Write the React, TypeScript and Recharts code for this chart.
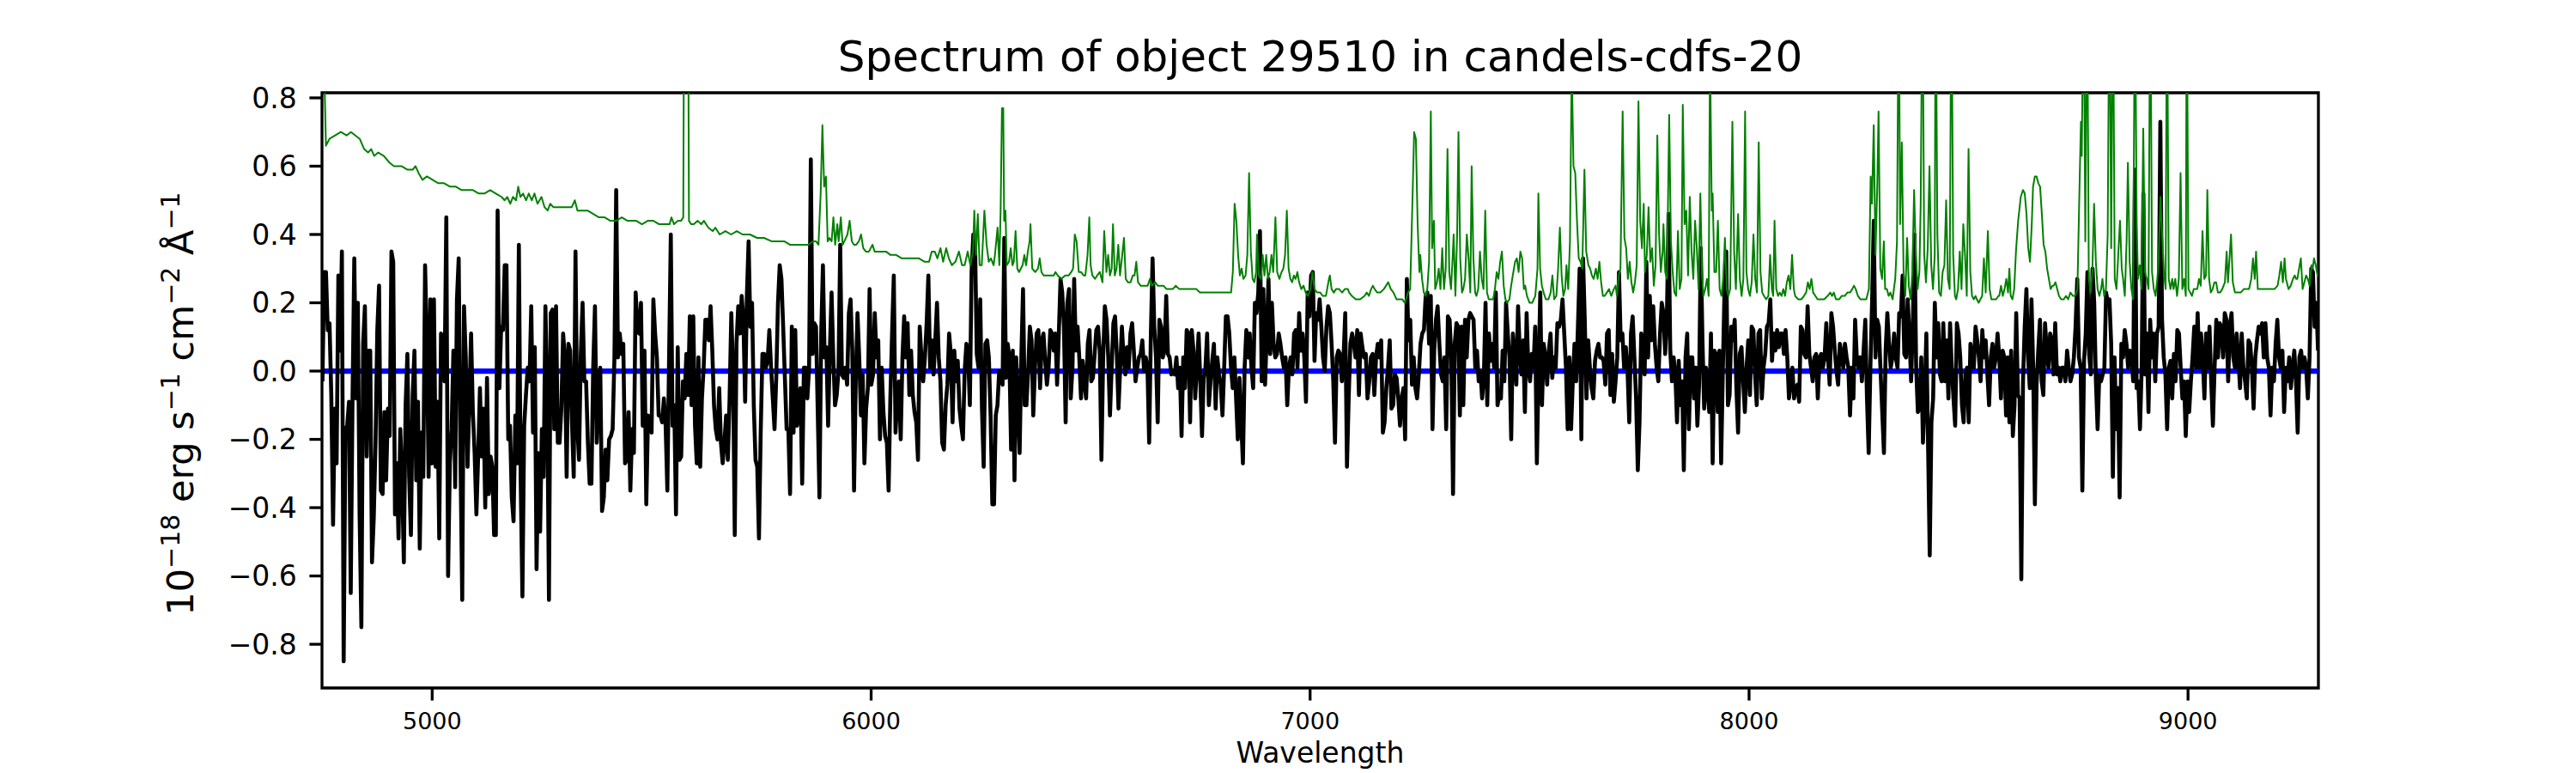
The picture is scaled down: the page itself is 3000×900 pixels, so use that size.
import { LineChart, Line, XAxis, YAxis, ReferenceArea } from 'recharts';

const FONT = 'DejaVu Sans';

// axis limits and ticks
const WAVE_RANGE = [4749, 9297];
const FLUX_RANGE = [-0.928, 0.815];
const WAVE_TICKS = [5000, 6000, 7000, 8000, 9000];
const FLUX_TICKS = [-0.8, -0.6, -0.4, -0.2, 0, 0.2, 0.4, 0.6, 0.8];

// object flux (black), in six wavelength chunks, samples evenly spaced inside each chunk
const SEGMENT_EDGES = [4750, 5520, 6280, 7045, 7805, 8570, 9300];

const flux1 = [-0.03,0.29,0.29,0.12,0.14,-0.07,-0.45,-0.11,-0.27,0.28,0.06,0.35,-0.85,-0.17,-0.16,-0.09,-0.65,-0.08,0.33,-0.08,0.2,-0.42,-0.75,0.08,0.19,-0.25,0.06,0.06,-0.56,-0.43,-0.21,0.12,0.25,-0.35,-0.36,-0.12,-0.32,-0.11,-0.19,0.35,0.32,-0.42,-0.27,-0.49,-0.17,-0.31,-0.56,-0.1,0.05,-0.31,-0.48,-0.07,0.06,-0.32,-0.09,-0.52,-0.18,-0.31,0.31,0.09,-0.31,0.21,-0.27,0.21,-0.28,-0.09,-0.49,0.11,0.09,-0.03,0.45,-0.6,-0.27,-0.17,0.06,-0.34,0.21,0.33,-0.25,-0.67,0.19,0.04,-0.28,-0.09,0.11,-0.12,-0.24,-0.42,-0.25,-0.05,-0.25,-0.11,-0.4,-0.02,-0.36,-0.25,-0.28,-0.48,-0.48,0.47,-0.05,0.13,0.12,0.31,0.31,-0.2,-0.16,-0.37,-0.44,-0.13,-0.27,0.37,-0.31,-0.66,-0.16,-0.07,0.01,-0.03,0.19,-0.18,0.07,-0.58,-0.24,-0.47,-0.17,-0.31,0.19,-0.05,-0.67,0.17,0.18,-0.17,0.19,-0.21,-0.21,-0.11,0.11,0.04,-0.31,0.08,0.06,-0.15,-0.31,0.35,-0.16,-0.26,0.05,0.2,-0.03,-0.03,-0.21,-0.33,-0.33,0.01,0.19,-0.21,-0.07,0.01,-0.41,-0.37,-0.23,-0.32,-0.2,-0.19,-0.17,0.04,0.53,0.04,0.11,0.05,0.08,-0.27,-0.26,-0.12,-0.35,-0.17,-0.24,0.23,0.13,0.11,0.2,-0.16,0.06,-0.39,-0.13,-0.16,-0.18,0.21,0.11,0.04,-0.13];
const flux2 = [-0.13,-0.15,-0.08,-0.16,-0.35,0.04,0.4,-0.16,-0.1,-0.42,0.07,-0.26,-0.25,-0.03,-0.08,0.05,-0.07,0.16,-0.1,0.16,-0.16,-0.27,0.04,-0.28,-0.08,0.01,0.15,0.15,0.09,0.19,0.06,-0.1,-0.17,-0.2,-0.05,-0.21,-0.27,-0.21,-0.13,-0.26,-0.08,0.17,0.0,-0.48,0.08,0.19,0.11,0.22,0.15,-0.09,0.22,0.38,0.13,0.2,-0.1,-0.26,-0.28,-0.49,-0.18,0.05,0.05,0.01,0.03,0.12,0.01,-0.08,-0.17,-0.02,0.2,0.31,0.27,0.13,-0.02,-0.17,-0.17,-0.36,0.13,-0.18,0.12,-0.16,-0.09,-0.05,-0.33,0.01,0.01,-0.08,0.01,0.62,0.05,0.14,0.13,-0.12,-0.37,0.11,0.31,0.04,0.07,-0.16,0.06,0.23,0.04,-0.1,-0.07,0.0,0.37,-0.01,-0.02,0.01,-0.04,0.17,0.21,0.06,-0.35,-0.03,0.17,0.04,-0.13,-0.01,-0.27,-0.11,-0.05,0.24,-0.04,-0.01,0.17,0.04,0.09,-0.2,0.01,-0.12,-0.19,-0.21,-0.35,-0.08,0.11,0.28,-0.18,-0.08,-0.03,-0.2,0.04,0.16,0.04,0.14,-0.07,0.06,-0.07,-0.12,-0.15,-0.26,0.13,0.04,-0.03,0.04,0.14,0.28,0.01,0.09,-0.01,0.09,0.2,0.04,-0.03,-0.21,-0.23,-0.1,-0.04,0.11,0.05,-0.15,0.06,-0.03,0.03,-0.11,-0.16,-0.2,0.0,0.08,0.05,-0.1,0.29,0.4,0.38,0.05,0.01,0.21,-0.11,-0.28,0.08,0.09,0.04,-0.13,-0.39];
const flux3 = [-0.39,-0.13,-0.1,0.0,-0.01,-0.04,0.39,-0.02,0.08,0.04,-0.23,0.06,-0.32,0.04,-0.08,-0.24,0.04,0.24,-0.1,-0.1,0.0,0.13,0.09,-0.13,0.01,0.11,0.12,-0.05,0.09,0.11,0.03,-0.04,0.01,0.12,0.11,0.06,0.11,-0.04,0.11,0.27,0.23,0.13,-0.15,0.2,0.24,-0.08,0.01,0.27,0.06,0.13,0.04,-0.08,0.03,-0.03,-0.08,0.08,0.12,-0.03,-0.02,0.05,0.12,0.13,0.06,-0.26,0.04,0.19,0.15,0.04,-0.13,0.01,0.14,0.16,0.05,-0.11,0.01,0.13,0.04,-0.01,0.07,0.01,0.11,0.14,0.06,-0.03,0.01,0.04,0.05,0.09,0.0,0.04,0.01,-0.21,0.11,0.33,0.13,0.04,-0.15,0.15,0.13,0.04,0.06,0.22,0.05,0.04,-0.01,0.0,-0.01,0.04,-0.05,0.01,-0.19,0.04,-0.05,0.12,0.11,-0.15,0.12,0.06,-0.08,0.01,0.11,-0.03,-0.19,-0.02,0.01,0.11,-0.1,-0.03,0.03,0.08,-0.11,0.04,-0.01,-0.04,-0.13,0.01,0.16,0.16,0.11,0.01,-0.05,0.04,-0.08,-0.2,-0.02,-0.15,-0.27,0.01,0.12,0.04,0.11,0.01,-0.05,0.2,0.17,0.23,0.41,-0.03,0.24,-0.04,0.11,0.27,0.05,0.2,0.08,0.04,0.05,0.11,0.08,0.04,0.01,0.04,-0.1,0.01,0.04,-0.01,0.11,0.12,0.01,0.17,0.06,0.11,0.04,-0.09,0.23,0.16,0.28,0.29,0.03,0.17,0.15,0.21,0.13,0.04,0.0,0.13,0.19];
const flux4 = [0.17,0.08,-0.03,-0.21,0.04,0.06,0.05,-0.03,0.04,0.17,-0.28,-0.08,0.08,0.11,0.08,0.04,0.12,-0.07,0.11,0.07,0.04,0.05,-0.08,-0.03,0.04,0.05,-0.07,0.04,0.08,0.04,0.09,-0.18,-0.15,-0.05,0.01,0.09,-0.11,-0.1,-0.01,-0.02,-0.08,-0.16,-0.08,-0.05,-0.2,0.27,0.09,0.15,-0.04,0.04,-0.05,-0.08,-0.01,0.08,0.11,0.12,0.22,0.23,0.08,0.22,-0.17,0.06,0.15,0.19,0.08,-0.01,-0.03,0.04,-0.17,0.16,0.15,0.04,-0.36,0.08,0.14,0.13,-0.13,0.13,-0.1,0.15,0.04,0.15,0.17,0.16,0.15,0.01,0.06,-0.03,0.0,-0.08,-0.02,0.2,-0.1,0.11,0.03,0.08,0.01,0.23,-0.1,-0.07,-0.08,0.06,-0.03,0.2,0.11,0.04,-0.2,0.11,0.04,-0.04,0.19,0.06,-0.01,0.09,-0.12,0.17,0.01,-0.03,0.05,0.01,0.13,-0.27,0.01,0.23,-0.1,0.08,0.04,-0.04,0.06,0.11,-0.02,0.04,0.01,0.14,0.13,0.15,0.21,0.11,0.01,-0.17,0.04,-0.17,-0.03,0.08,-0.03,0.13,0.3,-0.2,0.33,0.15,-0.08,0.09,0.01,-0.05,-0.08,0.03,0.06,0.08,0.04,0.04,0.03,-0.04,0.11,0.12,-0.07,0.05,-0.09,-0.03,0.04,0.29,0.09,0.11,0.01,0.07,0.0,-0.15,0.11,0.16,0.04,-0.08,-0.29,-0.15,0.11,0.06,-0.01,0.32,0.04,0.22,0.09,0.19,0.08,0.01,-0.03,0.11,0.2];
const flux5 = [0.17,0.05,0.15,0.46,0.06,-0.03,0.04,-0.01,-0.15,0.03,-0.1,-0.03,-0.29,0.04,0.11,-0.17,0.04,0.04,-0.08,0.01,-0.16,-0.04,0.36,0.09,-0.11,0.01,-0.05,-0.12,0.11,-0.27,0.06,0.05,-0.12,0.06,-0.27,0.0,0.24,0.35,-0.1,-0.07,0.13,0.09,0.15,-0.05,-0.18,0.05,0.07,-0.03,-0.12,0.01,0.09,-0.07,0.13,0.12,-0.01,-0.1,0.11,0.12,-0.08,0.01,0.05,0.13,0.14,0.21,0.03,0.11,0.06,0.12,0.07,0.11,0.11,0.05,0.12,0.04,-0.08,-0.03,0.01,-0.08,-0.05,-0.04,-0.09,0.13,0.12,0.05,0.04,0.19,0.05,0.01,-0.03,0.04,0.05,-0.08,0.04,0.05,0.01,0.04,0.14,0.04,-0.04,0.17,0.13,0.06,0.0,-0.04,0.08,0.05,0.01,0.08,0.04,0.01,-0.13,0.01,-0.08,0.15,0.04,0.01,0.04,-0.03,0.06,0.15,-0.08,-0.24,0.01,0.2,0.44,0.04,0.15,0.13,0.0,-0.12,-0.24,0.06,0.17,0.08,0.01,0.04,0.11,0.04,0.01,0.17,0.16,0.28,0.05,0.04,0.21,0.11,-0.03,0.13,0.4,0.01,-0.12,-0.11,0.04,-0.21,-0.08,0.11,-0.21,-0.54,-0.15,-0.08,0.2,0.04,0.14,-0.01,-0.03,0.14,-0.03,0.09,-0.08,0.14,0.01,-0.08,-0.16,0.14,0.11,0.04,-0.1,-0.15,-0.01,0.01,-0.15,0.08,0.04,0.01,0.13,0.09,0.04,-0.03,0.12,0.04,0.09,-0.01,-0.1,0.04,0.08,0.01,0.04,0.11];
const flux6 = [0.04,-0.08,0.06,0.04,-0.13,0.04,-0.15,0.06,-0.19,-0.1,0.17,-0.07,-0.08,-0.61,-0.03,0.13,0.24,0.04,-0.05,0.21,0.01,-0.39,-0.04,0.06,0.15,-0.03,-0.07,0.14,0.06,0.01,0.11,0.09,-0.01,0.14,-0.01,0.01,-0.03,0.01,0.01,-0.03,0.06,0.01,-0.03,-0.01,0.04,0.13,0.27,0.04,0.01,-0.35,0.03,0.11,0.29,0.05,-0.01,0.3,0.2,-0.03,-0.17,-0.01,-0.03,-0.01,0.01,0.23,0.2,0.21,0.08,-0.31,0.04,-0.17,-0.05,-0.37,0.08,0.04,0.12,0.08,0.01,0.06,0.04,-0.03,0.59,-0.05,-0.03,-0.17,0.01,0.52,-0.01,0.11,-0.12,0.15,0.04,0.11,-0.03,0.11,0.13,0.73,0.15,0.04,-0.01,-0.17,0.01,0.03,-0.08,0.05,-0.03,0.12,0.11,0.01,-0.08,-0.03,-0.19,-0.03,-0.12,-0.03,0.04,0.13,0.01,0.17,0.01,0.11,0.04,-0.08,0.11,0.01,0.13,-0.03,-0.16,0.01,0.15,0.04,0.14,0.13,0.04,0.17,0.15,-0.03,0.13,0.17,0.04,0.01,0.11,0.04,-0.05,0.11,0.01,-0.03,-0.08,0.09,0.08,0.01,-0.11,0.04,0.09,0.13,0.11,0.14,0.04,0.14,0.04,0.01,-0.13,0.01,-0.03,0.08,0.15,0.04,0.01,0.06,-0.12,0.01,-0.03,0.04,-0.05,0.01,0.06,-0.03,-0.18,0.04,0.06,0.01,0.04,0.01,-0.08,0.04,0.3,0.29,0.13,0.2,0.06];

// noise / sky spectrum (green) as [wavelength, flux] pairs; values above the frame are cut off
const noise1: [number, number][] = [[4750,1.1],[4753,0.95],[4758,0.66],[4766,0.68],[4779,0.69],[4792,0.7],[4805,0.69],[4815,0.7],[4825,0.69],[4835,0.68],[4845,0.65],[4854,0.64],[4861,0.65],[4868,0.63],[4877,0.64],[4890,0.63],[4903,0.61],[4913,0.6],[4920,0.6],[4930,0.6],[4943,0.59],[4956,0.59],[4962,0.6],[4969,0.58],[4978,0.56],[4988,0.57],[5001,0.56],[5014,0.55],[5027,0.55],[5041,0.54],[5054,0.54],[5067,0.53],[5080,0.53],[5093,0.53],[5106,0.52],[5119,0.52],[5132,0.53],[5145,0.52],[5158,0.51],[5165,0.5],[5171,0.51],[5178,0.49],[5184,0.51],[5191,0.5],[5196,0.54],[5201,0.51],[5207,0.52],[5214,0.5],[5220,0.52],[5227,0.5],[5233,0.52],[5240,0.49],[5249,0.51],[5256,0.48],[5263,0.47],[5269,0.49],[5276,0.48],[5282,0.48],[5292,0.48],[5302,0.48],[5312,0.48],[5318,0.48],[5325,0.5],[5331,0.47],[5341,0.47],[5354,0.47],[5367,0.46],[5380,0.45],[5393,0.45],[5406,0.44],[5419,0.44],[5432,0.45],[5445,0.44],[5455,0.44],[5465,0.44],[5478,0.43],[5491,0.44],[5504,0.44],[5517,0.43]];
const noise2: [number, number][] = [[5520,0.43],[5528,0.43],[5541,0.43],[5545,0.45],[5551,0.43],[5560,0.44],[5567,0.44],[5572,0.45],[5575,1.5],[5582,1.5],[5585,0.44],[5590,0.43],[5596,0.43],[5605,0.44],[5613,0.43],[5619,0.44],[5629,0.42],[5639,0.41],[5645,0.42],[5655,0.4],[5668,0.41],[5681,0.4],[5694,0.41],[5707,0.4],[5724,0.4],[5740,0.39],[5756,0.39],[5773,0.38],[5789,0.38],[5802,0.38],[5815,0.37],[5828,0.37],[5841,0.37],[5857,0.37],[5867,0.38],[5874,0.38],[5880,0.37],[5885,0.52],[5889,0.72],[5893,0.54],[5897,0.57],[5901,0.38],[5905,0.39],[5910,0.38],[5914,0.45],[5918,0.37],[5923,0.43],[5926,0.38],[5931,0.45],[5935,0.37],[5939,0.38],[5946,0.4],[5951,0.44],[5956,0.38],[5961,0.37],[5966,0.37],[5972,0.38],[5977,0.4],[5982,0.36],[5988,0.35],[5995,0.35],[6003,0.37],[6008,0.35],[6017,0.35],[6027,0.35],[6034,0.35],[6044,0.34],[6057,0.34],[6070,0.33],[6083,0.33],[6096,0.33],[6109,0.33],[6122,0.32],[6132,0.32],[6138,0.35],[6145,0.35],[6151,0.33],[6158,0.36],[6164,0.32],[6171,0.36],[6177,0.33],[6184,0.31],[6192,0.32],[6200,0.35],[6207,0.31],[6213,0.31],[6220,0.35],[6226,0.31],[6232,0.35],[6235,0.47],[6239,0.34],[6243,0.46],[6247,0.31],[6252,0.31],[6258,0.47],[6263,0.37],[6268,0.32],[6273,0.33],[6279,0.31]];
const noise3: [number, number][] = [[6282,0.34],[6288,0.42],[6292,0.31],[6295,0.47],[6298,0.77],[6301,0.77],[6303,0.44],[6306,0.47],[6309,0.31],[6314,0.32],[6318,0.36],[6322,0.31],[6325,0.32],[6329,0.41],[6333,0.3],[6337,0.29],[6341,0.3],[6345,0.31],[6349,0.34],[6353,0.31],[6357,0.35],[6361,0.38],[6363,0.43],[6367,0.3],[6374,0.29],[6380,0.3],[6384,0.33],[6388,0.29],[6393,0.28],[6403,0.28],[6410,0.28],[6416,0.28],[6420,0.29],[6425,0.28],[6433,0.27],[6442,0.28],[6450,0.28],[6456,0.29],[6460,0.3],[6464,0.4],[6468,0.38],[6473,0.29],[6478,0.29],[6484,0.28],[6488,0.28],[6493,0.34],[6497,0.45],[6500,0.31],[6504,0.28],[6510,0.27],[6515,0.28],[6521,0.29],[6527,0.26],[6531,0.41],[6536,0.29],[6540,0.34],[6544,0.28],[6548,0.3],[6551,0.43],[6555,0.28],[6559,0.3],[6563,0.37],[6567,0.28],[6572,0.34],[6576,0.39],[6580,0.27],[6585,0.26],[6591,0.26],[6596,0.28],[6600,0.28],[6604,0.32],[6608,0.26],[6614,0.25],[6622,0.25],[6630,0.25],[6635,0.27],[6640,0.25],[6647,0.26],[6653,0.25],[6660,0.25],[6666,0.25],[6673,0.24],[6681,0.24],[6687,0.24],[6694,0.25],[6702,0.24],[6709,0.24],[6717,0.24],[6725,0.24],[6733,0.24],[6741,0.24],[6749,0.23],[6756,0.23],[6768,0.23],[6781,0.23],[6794,0.23],[6807,0.23],[6820,0.23],[6824,0.29],[6828,0.49],[6832,0.44],[6836,0.34],[6840,0.28],[6844,0.3],[6848,0.27],[6853,0.28],[6857,0.34],[6861,0.58],[6865,0.35],[6869,0.27],[6873,0.26],[6877,0.29],[6879,0.4],[6883,0.28],[6888,0.27],[6892,0.34],[6896,0.28],[6900,0.34],[6904,0.27],[6908,0.29],[6912,0.34],[6916,0.29],[6921,0.45],[6925,0.29],[6930,0.27],[6935,0.29],[6939,0.3],[6943,0.34],[6947,0.47],[6951,0.3],[6955,0.27],[6959,0.26],[6963,0.28],[6967,0.27],[6971,0.29],[6975,0.26],[6980,0.24],[6985,0.25],[6990,0.23],[6995,0.22],[7001,0.24],[7005,0.29],[7010,0.24],[7016,0.23],[7023,0.23],[7029,0.22],[7036,0.22],[7043,0.27]];
const noise4: [number, number][] = [[7045,0.28],[7049,0.24],[7054,0.23],[7059,0.24],[7066,0.24],[7073,0.23],[7079,0.24],[7086,0.24],[7089,0.23],[7095,0.22],[7104,0.21],[7114,0.21],[7124,0.22],[7129,0.23],[7134,0.22],[7139,0.24],[7143,0.25],[7147,0.24],[7153,0.23],[7160,0.23],[7168,0.24],[7173,0.25],[7178,0.26],[7184,0.24],[7190,0.23],[7197,0.21],[7203,0.21],[7210,0.21],[7216,0.2],[7223,0.23],[7228,0.24],[7233,0.49],[7237,0.7],[7241,0.68],[7245,0.43],[7249,0.29],[7251,0.34],[7255,0.27],[7259,0.23],[7263,0.22],[7267,0.24],[7271,0.32],[7275,0.76],[7278,0.36],[7282,0.44],[7285,0.24],[7289,0.26],[7293,0.3],[7297,0.24],[7301,0.36],[7305,0.24],[7309,0.3],[7313,0.65],[7317,0.29],[7321,0.24],[7325,0.34],[7327,0.4],[7331,0.22],[7335,0.4],[7338,0.7],[7342,0.33],[7346,0.23],[7349,0.24],[7353,0.27],[7357,0.4],[7361,0.33],[7365,0.23],[7368,0.6],[7372,0.33],[7376,0.23],[7379,0.22],[7383,0.24],[7387,0.35],[7391,0.27],[7395,0.24],[7399,0.47],[7403,0.23],[7407,0.21],[7412,0.21],[7417,0.21],[7421,0.24],[7425,0.29],[7429,0.27],[7433,0.32],[7437,0.35],[7441,0.25],[7445,0.21],[7449,0.2],[7454,0.21],[7458,0.25],[7463,0.29],[7467,0.32],[7471,0.33],[7475,0.29],[7479,0.35],[7483,0.33],[7487,0.24],[7490,0.25],[7494,0.22],[7500,0.2],[7506,0.2],[7513,0.22],[7518,0.3],[7520,0.52],[7524,0.3],[7528,0.25],[7532,0.23],[7537,0.21],[7543,0.21],[7548,0.23],[7552,0.28],[7556,0.21],[7561,0.22],[7565,0.3],[7569,0.42],[7573,0.28],[7577,0.22],[7581,0.24],[7584,0.31],[7588,0.24],[7592,0.38],[7596,0.9],[7600,0.6],[7604,0.58],[7608,0.44],[7612,0.33],[7616,0.32],[7620,0.3],[7625,0.59],[7629,0.35],[7634,0.31],[7638,0.3],[7642,0.28],[7646,0.27],[7651,0.3],[7655,0.27],[7659,0.32],[7663,0.26],[7667,0.22],[7671,0.22],[7676,0.23],[7681,0.24],[7686,0.22],[7692,0.24],[7696,0.25],[7699,0.22],[7703,0.28],[7707,0.3],[7712,0.76],[7716,0.39],[7720,0.36],[7724,0.27],[7728,0.32],[7732,0.26],[7736,0.23],[7740,0.26],[7744,0.31],[7748,0.79],[7752,0.44],[7756,0.36],[7760,0.49],[7763,0.29],[7767,0.34],[7771,0.48],[7775,0.32],[7779,0.36],[7783,0.25],[7787,0.31],[7791,0.69],[7795,0.4],[7799,0.29],[7803,0.35]];
const noise5: [number, number][] = [[7805,0.43],[7809,0.29],[7813,0.27],[7818,0.75],[7822,0.38],[7826,0.29],[7830,0.23],[7834,0.22],[7838,0.41],[7842,0.24],[7846,0.27],[7849,0.78],[7853,0.43],[7857,0.47],[7861,0.28],[7865,0.51],[7869,0.35],[7873,0.27],[7877,0.44],[7881,0.36],[7885,0.24],[7889,0.52],[7893,0.28],[7896,0.22],[7900,0.24],[7904,0.27],[7908,0.22],[7911,0.95],[7915,0.47],[7917,0.52],[7921,0.29],[7925,0.29],[7929,0.44],[7933,0.24],[7937,0.22],[7941,0.27],[7945,0.39],[7949,0.24],[7953,0.22],[7957,0.24],[7962,0.73],[7966,0.35],[7970,0.24],[7975,0.46],[7979,0.27],[7983,0.22],[7987,0.27],[7991,0.76],[7994,0.29],[7998,0.24],[8002,0.22],[8006,0.26],[8010,0.4],[8014,0.27],[8018,0.23],[8022,0.67],[8026,0.29],[8030,0.23],[8034,0.22],[8039,0.21],[8044,0.22],[8048,0.34],[8052,0.24],[8055,0.22],[8058,0.44],[8062,0.24],[8066,0.22],[8070,0.23],[8074,0.22],[8078,0.24],[8082,0.22],[8086,0.26],[8090,0.28],[8094,0.24],[8098,0.34],[8102,0.24],[8105,0.22],[8112,0.21],[8119,0.21],[8125,0.22],[8130,0.23],[8134,0.26],[8138,0.24],[8142,0.27],[8146,0.23],[8151,0.22],[8156,0.21],[8163,0.21],[8171,0.21],[8179,0.22],[8185,0.23],[8189,0.22],[8193,0.23],[8198,0.21],[8205,0.21],[8211,0.22],[8218,0.22],[8224,0.23],[8230,0.23],[8235,0.24],[8239,0.25],[8243,0.24],[8248,0.22],[8254,0.21],[8261,0.21],[8267,0.21],[8273,0.24],[8277,0.57],[8280,0.49],[8284,0.72],[8288,0.34],[8292,0.54],[8295,0.76],[8299,0.3],[8303,0.27],[8307,0.38],[8310,0.24],[8314,0.24],[8318,0.22],[8322,0.23],[8327,0.21],[8333,0.27],[8337,0.38],[8341,1.2],[8344,0.43],[8348,0.67],[8352,0.29],[8356,0.22],[8360,0.39],[8364,0.25],[8368,0.21],[8372,0.29],[8376,0.53],[8380,0.34],[8384,0.24],[8388,0.29],[8391,0.49],[8395,1.2],[8399,0.34],[8403,0.26],[8407,0.36],[8411,0.6],[8415,0.31],[8419,0.24],[8423,0.34],[8425,1.2],[8429,0.4],[8433,0.23],[8437,0.22],[8441,0.29],[8445,0.31],[8449,0.5],[8453,0.27],[8457,0.24],[8461,1.2],[8465,0.34],[8469,0.22],[8472,0.21],[8476,0.24],[8480,0.35],[8484,0.24],[8488,0.43],[8492,0.34],[8496,0.22],[8500,0.65],[8504,0.29],[8508,0.22],[8512,0.21],[8516,0.22],[8519,0.21],[8523,0.2],[8527,0.21],[8531,0.22],[8535,0.33],[8539,0.23],[8544,0.41],[8548,0.24],[8552,0.21],[8557,0.21],[8563,0.21],[8568,0.22]];
const noise6: [number, number][] = [[8570,0.22],[8574,0.25],[8578,0.22],[8582,0.24],[8586,0.27],[8590,0.23],[8593,0.3],[8596,0.22],[8600,0.21],[8604,0.24],[8608,0.35],[8613,0.44],[8619,0.51],[8624,0.53],[8628,0.52],[8632,0.46],[8636,0.36],[8640,0.32],[8644,0.43],[8647,0.54],[8651,0.57],[8655,0.57],[8659,0.55],[8663,0.54],[8667,0.46],[8671,0.37],[8675,0.35],[8679,0.3],[8683,0.27],[8687,0.24],[8691,0.25],[8694,0.25],[8698,0.26],[8702,0.24],[8706,0.22],[8711,0.21],[8717,0.21],[8722,0.22],[8727,0.21],[8732,0.23],[8738,0.22],[8743,0.22],[8748,0.24],[8752,0.49],[8756,0.73],[8758,0.63],[8762,1.2],[8766,0.38],[8770,1.2],[8774,0.27],[8778,0.23],[8782,0.29],[8786,0.49],[8790,0.32],[8794,0.24],[8798,0.22],[8802,0.24],[8805,0.27],[8809,0.22],[8813,0.24],[8817,0.4],[8821,1.2],[8825,0.36],[8829,1.2],[8833,0.27],[8837,0.24],[8841,0.34],[8845,0.44],[8849,0.3],[8852,0.27],[8856,0.22],[8860,0.38],[8863,0.61],[8867,0.32],[8871,0.24],[8875,0.21],[8879,1.2],[8883,0.43],[8886,0.27],[8890,0.31],[8894,0.24],[8898,0.71],[8902,0.29],[8906,0.27],[8910,0.24],[8914,1.2],[8918,0.29],[8922,0.24],[8926,0.22],[8930,0.27],[8933,0.32],[8937,0.51],[8941,0.4],[8945,0.29],[8949,0.24],[8952,1.2],[8956,0.27],[8960,0.24],[8964,0.27],[8967,0.24],[8971,0.27],[8975,0.22],[8979,0.27],[8983,0.58],[8987,0.24],[8991,0.27],[8995,0.22],[8997,1.2],[9001,0.24],[9005,0.23],[9009,0.22],[9013,0.24],[9017,0.24],[9021,0.24],[9025,0.27],[9029,0.25],[9033,0.41],[9037,0.27],[9041,0.28],[9044,0.53],[9048,0.27],[9052,0.23],[9056,0.24],[9060,0.26],[9064,0.26],[9068,0.23],[9073,0.23],[9078,0.24],[9084,0.26],[9088,0.35],[9091,0.26],[9095,0.34],[9098,0.4],[9102,0.26],[9107,0.23],[9114,0.23],[9120,0.23],[9127,0.24],[9132,0.24],[9139,0.24],[9144,0.27],[9148,0.33],[9152,0.27],[9155,0.35],[9159,0.24],[9165,0.24],[9171,0.24],[9178,0.24],[9184,0.24],[9191,0.24],[9197,0.24],[9204,0.25],[9208,0.28],[9212,0.32],[9216,0.26],[9220,0.33],[9223,0.27],[9229,0.24],[9234,0.25],[9239,0.27],[9243,0.28],[9246,0.27],[9249,0.27],[9253,0.3],[9257,0.33],[9261,0.24],[9265,0.26],[9269,0.28],[9273,0.27],[9277,0.25],[9281,0.31],[9284,0.3],[9287,0.33],[9291,0.31],[9295,0.28],[9299,0.28]];

// zero-level model line (blue)
const modelWave = [4740, 9310];
const modelFlux = [0, 0];

const fluxSegments = [flux1, flux2, flux3, flux4, flux5, flux6];
const fluxData = fluxSegments.flatMap((seg, i) => {
  const start = SEGMENT_EDGES[i];
  const span = SEGMENT_EDGES[i + 1] - start;
  return seg.map((f, j) => ({ w: start + (span * j) / seg.length, f }));
});
const noiseData = [...noise1, ...noise2, ...noise3, ...noise4, ...noise5, ...noise6].map(([w, f]) => ({ w, f }));
const modelData = modelWave.map((w, i) => ({ w, f: modelFlux[i] }));

const fmtFlux = (v: number) => (v < 0 ? '\u2212' : '') + Math.abs(v).toFixed(1);

const SUP = 30;
const BASE = 43;
const RAISE = 16;

export default function App() {
  return (
    <div style={{ position: 'absolute', left: 0, top: 0, width: 3000, height: 900, background: '#fff' }}>
      <LineChart width={3000} height={900} margin={{ top: 108, right: 300, bottom: 0, left: 275 }}>
        <XAxis
          dataKey="w"
          type="number"
          domain={WAVE_RANGE}
          ticks={WAVE_TICKS}
          interval={0}
          allowDataOverflow
          height={99}
          axisLine={false}
          tickSize={14.6}
          tickMargin={14.6}
          tickLine={{ stroke: '#000', strokeWidth: 3.3 }}
          tick={{ fontSize: 27, fill: '#000', fontFamily: FONT }}
        />
        <YAxis
          dataKey="f"
          type="number"
          domain={FLUX_RANGE}
          ticks={FLUX_TICKS}
          interval={0}
          allowDataOverflow
          width={100}
          axisLine={false}
          tickSize={14.6}
          tickMargin={14.6}
          tickFormatter={fmtFlux}
          tickLine={{ stroke: '#000', strokeWidth: 3.3 }}
          tick={{ fontSize: 33, fill: '#000', fontFamily: FONT }}
        />
        <Line data={modelData} dataKey="f" type="linear" stroke="#0000ff" strokeWidth={6.2} dot={false} isAnimationActive={false} />
        <Line data={fluxData} dataKey="f" type="linear" stroke="#000" strokeWidth={4.6} strokeLinejoin="round" dot={false} isAnimationActive={false} />
        <Line data={noiseData} dataKey="f" type="linear" stroke="#008000" strokeWidth={2} strokeLinejoin="round" dot={false} isAnimationActive={false} />
        <ReferenceArea
          x1={WAVE_RANGE[0]}
          x2={WAVE_RANGE[1]}
          y1={FLUX_RANGE[0]}
          y2={FLUX_RANGE[1]}
          ifOverflow="visible"
          fill="none"
          fillOpacity={0}
          stroke="#000"
          strokeWidth={3.3}
        />
        <text x={1537.5} y={83} textAnchor="middle" fontSize={50} fontFamily={FONT} fill="#000">
          Spectrum of object 29510 in candels-cdfs-20
        </text>
        <text x={1537.5} y={888} textAnchor="middle" fontSize={33} fontFamily={FONT} fill="#000">
          Wavelength
        </text>
        <text
          transform="translate(225,470) rotate(-90)"
          textAnchor="middle"
          fontSize={BASE}
          fontFamily={FONT}
          fill="#000"
          style={{ whiteSpace: 'pre' }}
        >
          10
          <tspan fontSize={SUP} dy={-RAISE}>{'\u221218'}</tspan>
          <tspan fontSize={BASE} dy={RAISE}>{' erg s'}</tspan>
          <tspan fontSize={SUP} dy={-RAISE}>{'\u22121'}</tspan>
          <tspan fontSize={BASE} dy={RAISE}>{' cm'}</tspan>
          <tspan fontSize={SUP} dy={-RAISE}>{'\u22122'}</tspan>
          <tspan fontSize={BASE} dy={RAISE}>{' \u00c5'}</tspan>
          <tspan fontSize={SUP} dy={-RAISE}>{'\u22121'}</tspan>
        </text>
      </LineChart>
    </div>
  );
}
